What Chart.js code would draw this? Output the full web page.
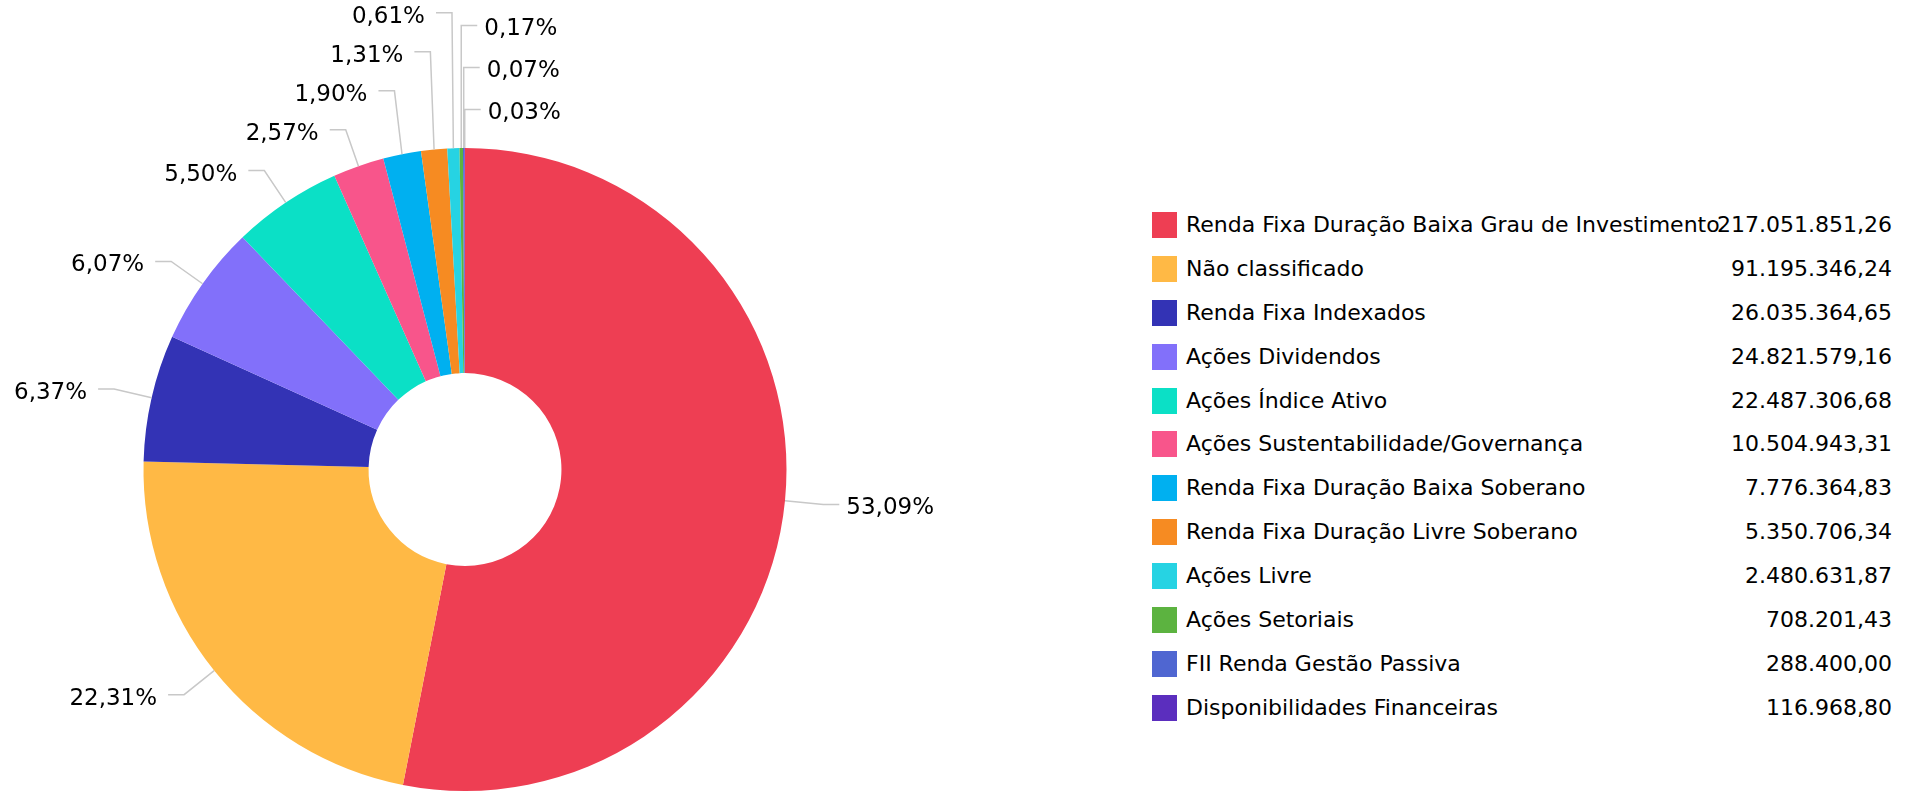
<!DOCTYPE html>
<html>
<head>
<meta charset="utf-8">
<title>Carteira por categoria</title>
<script src="https://cdn.jsdelivr.net/npm/chart.js@4.4.1/dist/chart.umd.min.js"></script>
<style>
  html, body { margin: 0; padding: 0; background: #fff; }
  body { width: 1921px; height: 792px; position: relative; overflow: hidden; font-family: "DejaVu Sans", Verdana, sans-serif; }
  #pie { position: absolute; left: 0; top: 0; }
  #legend { position: absolute; left: 1152px; top: 212px; width: 740px; }
  .row { position: relative; height: 43.9px; }
  .box { position: absolute; left: 0; top: 0; width: 25px; height: 26px; }
  .name { position: absolute; left: 34px; top: 0; line-height: 26px; font-size: 22px; color: #000; white-space: nowrap; }
  .value { position: absolute; right: 0; top: 0; line-height: 26px; font-size: 22px; color: #000; background: transparent; }
</style>
</head>
<body>
<canvas id="pie" width="1020" height="792"></canvas>
<div id="legend"></div>

<script>
// Data
const categories = [
  'Renda Fixa Duração Baixa Grau de Investimento',
  'Não classificado',
  'Renda Fixa Indexados',
  'Ações Dividendos',
  'Ações Índice Ativo',
  'Ações Sustentabilidade/Governança',
  'Renda Fixa Duração Baixa Soberano',
  'Renda Fixa Duração Livre Soberano',
  'Ações Livre',
  'Ações Setoriais',
  'FII Renda Gestão Passiva',
  'Disponibilidades Financeiras'
];
const values = [
  217051851.26, 91195346.24, 26035364.65, 24821579.16, 22487306.68, 10504943.31,
  7776364.83, 5350706.34, 2480631.87, 708201.43, 288400.00, 116968.80
];
const colors = [
  '#EE3E53', '#FFB945', '#3333B5', '#8270FA', '#0BE0C6', '#F8558B',
  '#00B0F0', '#F68B22', '#26D3E3', '#5CB340', '#4F66D1', '#5B2EBE'
];

// Label styling
const LINE_OUT = 38.5;      // distance from slice edge to the bend of the connector
const LINE_FLAT = 16;       // horizontal part of the connector
const GAP_LEFT = 39;        // min vertical spacing of stacked labels
const GAP_RIGHT = 42;
const LABEL_FONT = '23px "DejaVu Sans", Verdana, sans-serif';

const total = values.reduce((a, b) => a + b, 0);

// pt-BR number format: 217.051.851,26
function formatBR(v) {
  const parts = v.toFixed(2).split('.');
  parts[0] = parts[0].replace(/\B(?=(\d{3})+(?!\d))/g, '.');
  return parts.join(',');
}
function pctText(v) {
  return (v / total * 100).toFixed(2).replace('.', ',') + '%';
}

// Outside labels with connector lines
const outerLabels = {
  id: 'outerLabels',
  afterDatasetsDraw(chart) {
    const ctx = chart.ctx;
    const arcs = chart.getDatasetMeta(0).data;
    const items = arcs.map((arc, i) => {
      const p = arc.getProps(['x', 'y', 'startAngle', 'endAngle', 'outerRadius'], true);
      const mid = (p.startAngle + p.endAngle) / 2;
      const dx = Math.cos(mid), dy = Math.sin(mid);
      const r2 = p.outerRadius + LINE_OUT;
      return {
        i: i,
        mid: mid,
        right: dx > -0.02,
        touch: { x: p.x + dx * p.outerRadius, y: p.y + dy * p.outerRadius },
        bend: { x: p.x + dx * r2, y: p.y + dy * r2 }
      };
    });

    // left side: bottom to top is clockwise order
    const left = items.filter(d => !d.right).sort((a, b) => a.mid - b.mid);
    // right side: bottom to top is counter clockwise order (wrap slices near the top)
    const key = d => (d.mid > Math.PI ? d.mid - 2 * Math.PI : d.mid);
    const right = items.filter(d => d.right).sort((a, b) => key(b) - key(a));

    function stack(list, gap) {
      let prev = Infinity;
      list.forEach(d => {
        d.ly = Math.min(d.bend.y, prev - gap);
        prev = d.ly;
      });
    }
    stack(left, GAP_LEFT);
    stack(right, GAP_RIGHT);

    ctx.save();
    ctx.font = LABEL_FONT;
    ctx.textBaseline = 'middle';
    items.forEach(d => {
      const dir = d.right ? 1 : -1;
      let bx = d.bend.x;
      // keep the turn of the connector at least 90 degrees
      if (dir < 0 && bx > d.touch.x) bx = d.touch.x;
      if (dir > 0 && bx < d.touch.x) bx = d.touch.x;
      const ex = bx + dir * LINE_FLAT;

      ctx.strokeStyle = '#c8c8c8';
      ctx.lineWidth = 1.5;
      ctx.beginPath();
      ctx.moveTo(d.touch.x, d.touch.y);
      ctx.lineTo(bx, d.ly);
      ctx.lineTo(ex, d.ly);
      ctx.stroke();

      ctx.fillStyle = '#000';
      ctx.textAlign = d.right ? 'left' : 'right';
      ctx.fillText(pctText(values[d.i]), ex + dir * (d.right ? 7 : 11), d.ly + 4);
    });
    ctx.restore();
  }
};

const ctx = document.getElementById('pie').getContext('2d');
new Chart(ctx, {
  type: 'doughnut',
  data: {
    labels: categories,
    datasets: [{
      data: values,
      backgroundColor: colors,
      borderWidth: 0,
      hoverOffset: 0,
      offset: 0
    }]
  },
  options: {
    responsive: false,
    animation: false,
    events: [],
    cutout: '30%',
    // pie centred at x 465 with room on the right for the labels
    layout: { padding: { top: 148, bottom: 1, left: 0, right: 90 } },
    plugins: {
      legend: { display: false },
      tooltip: { enabled: false }
    }
  },
  plugins: [outerLabels]
});

// Legend with values on the right
const legend = document.getElementById('legend');
categories.forEach((name, i) => {
  const row = document.createElement('div');
  row.className = 'row';
  row.innerHTML = '<div class="box" style="background:' + colors[i] + '"></div>' +
    '<div class="name"></div><div class="value"></div>';
  row.querySelector('.name').textContent = name;
  row.querySelector('.value').textContent = formatBR(values[i]);
  legend.appendChild(row);
});
</script>
</body>
</html>
